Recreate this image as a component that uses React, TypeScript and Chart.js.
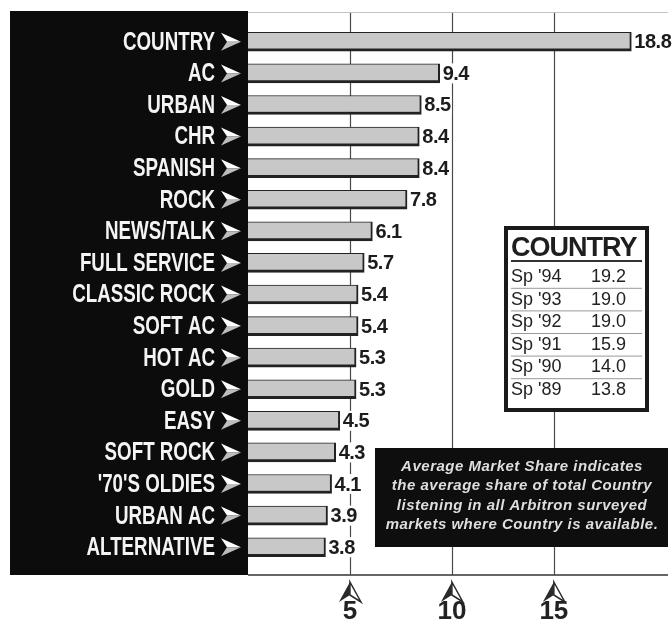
import React, { useEffect, useRef } from 'react';
import { Chart, registerables } from 'chart.js';

Chart.register(...registerables);

const categories = ['COUNTRY', 'AC', 'URBAN', 'CHR', 'SPANISH', 'ROCK', 'NEWS/TALK', 'FULL SERVICE', 'CLASSIC ROCK', 'SOFT AC', 'HOT AC', 'GOLD', 'EASY', 'SOFT ROCK', "'70'S OLDIES", 'URBAN AC', 'ALTERNATIVE'];
const shares = [18.8, 9.4, 8.5, 8.4, 8.4, 7.8, 6.1, 5.7, 5.4, 5.4, 5.3, 5.3, 4.5, 4.3, 4.1, 3.9, 3.8];
const xTicks = [5, 10, 15];
const countryTitle = 'COUNTRY';
const countryBooks = ["Sp '94", "Sp '93", "Sp '92", "Sp '91", "Sp '90", "Sp '89"];
const countryShares = [19.2, 19.0, 19.0, 15.9, 14.0, 13.8];
const noteLines = [
  'Average Market Share indicates',
  'the average share of total Country',
  'listening in all Arbitron surveyed',
  'markets where Country is available.',
];

const SANS = "'Liberation Sans', Arial, sans-serif";

function line(ctx: CanvasRenderingContext2D, x1: number, y1: number, x2: number, y2: number) {
  ctx.beginPath();
  ctx.moveTo(x1, y1);
  ctx.lineTo(x2, y2);
  ctx.stroke();
}

const framePlugin = {
  id: 'frame',
  beforeDraw(chart: any) {
    const ctx: CanvasRenderingContext2D = chart.ctx;
    const a = chart.chartArea;
    ctx.save();
    ctx.fillStyle = '#fff';
    ctx.fillRect(0, 0, chart.width, chart.height);
    // black label panel
    ctx.fillStyle = '#0c0c0c';
    ctx.fillRect(10, 11, a.left - 10, 564);
    // top & bottom frame lines
    ctx.strokeStyle = '#c4c4c4';
    ctx.lineWidth = 1;
    line(ctx, a.left, 12.5, 668, 12.5);
    ctx.strokeStyle = '#333';
    ctx.lineWidth = 1.5;
    line(ctx, a.left, 575, 668, 575);
    // grid lines
    const xs = chart.scales.x;
    ctx.strokeStyle = '#4a4a4a';
    ctx.lineWidth = 1.2;
    xs.ticks.forEach((t: any) => {
      const px = Math.round(xs.getPixelForValue(t.value)) + 0.5;
      line(ctx, px, 13, px, 575);
    });
    // category labels (condensed) with arrowheads
    const ys = chart.scales.y;
    const labels: string[] = chart.data.labels;
    ctx.font = `bold 25px ${SANS}`;
    ctx.textBaseline = 'middle';
    ctx.textAlign = 'right';
    labels.forEach((lab, i) => {
      const py = ys.getPixelForTick(i);
      ctx.save();
      ctx.translate(a.left - 33, py + 1);
      ctx.scale(0.75, 1);
      ctx.fillStyle = '#f4f4f4';
      ctx.fillText(lab, 0, 0);
      ctx.restore();
      const x0 = a.left - 27;
      ctx.fillStyle = '#fff';
      ctx.beginPath();
      ctx.moveTo(x0, py - 9);
      ctx.lineTo(x0 + 20, py);
      ctx.lineTo(x0 + 6, py);
      ctx.closePath();
      ctx.fill();
      ctx.fillStyle = '#bdbdbd';
      ctx.beginPath();
      ctx.moveTo(x0 + 6, py);
      ctx.lineTo(x0 + 20, py);
      ctx.lineTo(x0, py + 9);
      ctx.closePath();
      ctx.fill();
    });
    ctx.restore();
  },
  afterDatasetsDraw(chart: any) {
    const ctx: CanvasRenderingContext2D = chart.ctx;
    const meta = chart.getDatasetMeta(0);
    ctx.save();
    // value labels
    ctx.font = `bold 20px ${SANS}`;
    (ctx as any).letterSpacing = '-0.5px';
    ctx.textBaseline = 'middle';
    ctx.textAlign = 'left';
    meta.data.forEach((bar: any, i: number) => {
      const txt = shares[i].toFixed(1);
      const w = ctx.measureText(txt).width;
      const x = bar.x + 3;
      ctx.fillStyle = '#fff';
      ctx.fillRect(x - 1, bar.y - 10, w + 2, 20);
      ctx.fillStyle = '#1c1c1c';
      ctx.fillText(txt, x, bar.y + 1);
    });
    (ctx as any).letterSpacing = '0px';
    // up arrowheads above x tick labels
    const xs = chart.scales.x;
    xs.ticks.forEach((t: any) => {
      const px = xs.getPixelForValue(t.value);
      ctx.fillStyle = '#2a2a2a';
      ctx.beginPath();
      ctx.moveTo(px, 582);
      ctx.lineTo(px - 11, 602);
      ctx.lineTo(px, 595);
      ctx.closePath();
      ctx.fill();
      ctx.fillStyle = '#fff';
      ctx.strokeStyle = '#2a2a2a';
      ctx.lineWidth = 1.5;
      ctx.beginPath();
      ctx.moveTo(px, 582);
      ctx.lineTo(px + 11, 602);
      ctx.lineTo(px, 595);
      ctx.closePath();
      ctx.fill();
      ctx.stroke();
    });
    ctx.restore();
  },
  afterDraw(chart: any) {
    const ctx: CanvasRenderingContext2D = chart.ctx;
    ctx.save();
    // COUNTRY history box
    const bx = 504, by = 226, bw = 145, bh = 186;
    ctx.fillStyle = '#fff';
    ctx.fillRect(bx, by, bw, bh);
    ctx.strokeStyle = '#1a1a1a';
    ctx.lineWidth = 4;
    ctx.strokeRect(bx + 2, by + 2, bw - 4, bh - 4);
    ctx.fillStyle = '#1e1e1e';
    ctx.font = `bold 27px ${SANS}`;
    (ctx as any).letterSpacing = '-1px';
    ctx.textBaseline = 'alphabetic';
    ctx.textAlign = 'left';
    ctx.fillText(countryTitle, 511, 256);
    (ctx as any).letterSpacing = '0px';
    ctx.strokeStyle = '#333';
    ctx.lineWidth = 2;
    line(ctx, 511, 261, 642, 261);
    ctx.font = `18px ${SANS}`;
    ctx.textBaseline = 'middle';
    const rowH = 22.6;
    countryBooks.forEach((b, i) => {
      const cy = 277 + i * rowH;
      ctx.fillStyle = '#222';
      ctx.fillText(b, 511, cy);
      ctx.fillText(countryShares[i].toFixed(1), 591, cy);
      if (i > 0) {
        ctx.strokeStyle = '#999';
        ctx.lineWidth = 1;
        line(ctx, 511, cy - rowH / 2, 642, cy - rowH / 2);
      }
    });
    // note box
    ctx.fillStyle = '#0e0e0e';
    ctx.fillRect(375, 448, 293, 99);
    ctx.fillStyle = '#dedede';
    ctx.font = `italic bold 15px ${SANS}`;
    (ctx as any).letterSpacing = '0.5px';
    ctx.textAlign = 'center';
    noteLines.forEach((t, i) => {
      ctx.fillText(t, 522, 467 + i * 19.3);
    });
    (ctx as any).letterSpacing = '0px';
    ctx.restore();
  },
};

export default function App() {
  const ref = useRef<HTMLCanvasElement>(null);
  useEffect(() => {
    if (!ref.current) return;
    const chart = new Chart(ref.current, {
      type: 'bar',
      data: {
        labels: categories,
        datasets: [
          {
            data: shares,
            backgroundColor: '#c8c8c8',
            borderColor: '#222',
            borderWidth: { top: 1, right: 2, bottom: 3, left: 0 },
            borderSkipped: false,
            barThickness: 19,
          },
        ],
      },
      options: {
        indexAxis: 'y',
        responsive: false,
        animation: false,
        layout: { padding: { top: 26, right: 6, bottom: 0, left: 0 } },
        plugins: { legend: { display: false }, tooltip: { enabled: false } },
        scales: {
          x: {
            type: 'linear',
            min: 0,
            max: 20.5,
            grid: { display: false, drawTicks: false },
            border: { display: false },
            afterBuildTicks: (scale: any) => {
              scale.ticks = xTicks.map((v) => ({ value: v }));
            },
            afterFit: (scale: any) => {
              scale.height = 72;
            },
            ticks: {
              color: '#222',
              padding: 26,
              font: { family: SANS, size: 26, weight: 'bold', lineHeight: 1.77 },
              callback: (v: any) => String(v),
            },
          },
          y: {
            type: 'category',
            grid: { display: false, drawTicks: false },
            border: { display: false },
            afterFit: (scale: any) => {
              scale.width = 248;
            },
            ticks: { display: false },
          },
        },
      },
      plugins: [framePlugin],
    });
    return () => chart.destroy();
  }, []);
  return (
    <div style={{ position: 'absolute', left: 0, top: 0, width: 672, height: 635 }}>
      <canvas ref={ref} width={672} height={635} />
    </div>
  );
}
